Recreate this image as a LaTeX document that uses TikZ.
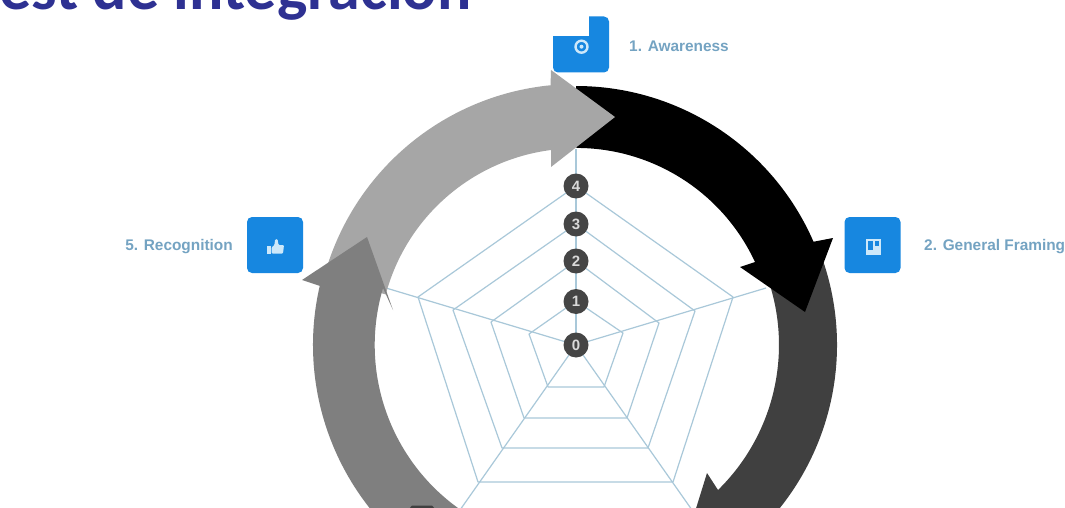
\documentclass[tikz,border=0pt]{standalone}
\usepackage{fontspec}
\setmainfont{Liberation Sans}
\newfontfamily\titlefont{Carlito}
\definecolor{titleblue}{HTML}{2E3192}
\definecolor{boxblue}{HTML}{1787E0}
\definecolor{labelblue}{HTML}{74A3C2}
\definecolor{spoke}{HTML}{A9C8D9}
\definecolor{badge}{HTML}{454545}
\definecolor{icontint}{HTML}{CDE8FA}
\definecolor{arrowA}{HTML}{000000}
\definecolor{arrowB}{HTML}{404040}
\definecolor{arrowC}{HTML}{7F7F7F}
\definecolor{arrowD}{HTML}{A6A6A6}
\tikzset{
  iconbox/.style={fill=boxblue,rounded corners=5pt,minimum size=56pt,inner sep=0pt},
  lab/.style={text=labelblue,font=\fontsize{15.4}{17}\selectfont\bfseries,inner sep=0pt},
  num/.style={circle,fill=badge,text=white!85!black,minimum size=25pt,inner sep=0pt,font=\fontsize{15}{16}\selectfont\bfseries},
  web/.style={draw=spoke,line width=1.2pt,line join=round},
}
\begin{document}
\begin{tikzpicture}[x=1pt,y=1pt]
\useasboundingbox (0,0) rectangle (1065,507);
\clip (0,0) rectangle (1065,507);
\fill[white] (0,0) rectangle (1065,507);
% title
\node[anchor=base west,inner sep=0pt,text=titleblue,font=\titlefont\fontsize{64}{70}\selectfont\bfseries] (title) at (-1,497.5) {est de integración};
% web
\begin{scope}[shift={(576,162)}]
  \coordinate (n4) at (0,159); \coordinate (n3) at (0,121); \coordinate (n2) at (0,84); \coordinate (n1) at (0,44);
  \coordinate (r4) at (157,48); \coordinate (r3) at (119,34); \coordinate (r2) at (83,22); \coordinate (r1) at (47,12);
  \coordinate (d4) at (97,-137); \coordinate (d3) at (72,-103); \coordinate (d2) at (51,-73); \coordinate (d1) at (28,-42);
  \coordinate (e4) at (-98,-137); \coordinate (e3) at (-74,-103); \coordinate (e2) at (-52,-73); \coordinate (e1) at (-28,-42);
  \coordinate (l4) at (-158,48); \coordinate (l3) at (-123,35); \coordinate (l2) at (-85,23); \coordinate (l1) at (-47,11);
  \coordinate (o) at (0,0);
  \coordinate (topend) at (0,196); \coordinate (rend) at (190,57); \coordinate (lend) at (-190,57);
  \coordinate (dend) at (116,-165); \coordinate (eend) at (-116,-165);
  \foreach \k in {1,2,3,4}{
    \draw[web] (n\k) -- (r\k) -- (d\k) -- (e\k) -- (l\k) -- cycle;
  }
  \draw[web] (o) -- (topend);
  \draw[web] (o) -- (rend);
  \draw[web] (o) -- (lend);
  \draw[web] (o) -- (dend);
  \draw[web] (o) -- (eend);
  % ring arrows
  \fill[arrowB] (20:261) arc[start angle=20,end angle=-45,radius=261pt]
     -- (-40:285) -- (109,-199) -- (131,-128) -- (142,-145)
     arc[start angle=-45.6,end angle=20,radius=203pt] -- cycle;
  \fill[arrowA] (90:259) arc[start angle=90,end angle=23.5,radius=259pt]
     -- (257,107) -- (229,33) -- (164,78) -- (179,83)
     arc[start angle=24.9,end angle=90,radius=197pt] -- cycle;
  \fill[arrowD] (165:261) arc[start angle=165,end angle=95.6,radius=261pt]
     -- (-25,275) -- (39,228) -- (-25,178) -- (-25,195)
     arc[start angle=97.3,end angle=165,radius=197pt] -- cycle;
  \fill[arrowC] (240:263) arc[start angle=240,end angle=167,radius=263pt]
     -- (-274,65) -- (-209,108) -- (-183,35) -- (-193,57)
     arc[start angle=163.5,end angle=240,radius=201pt] -- cycle;
\end{scope}
\fill[arrowB] (409,-2) -- (412,1.5) -- (432,1.5) -- (435,-2) -- cycle;
% value badges
\node[num] (b4) at (576,321) {4};
\node[num] (b3) at (576,283) {3};
\node[num] (b2) at (576,246) {2};
\node[num] (b1) at (576,205.5) {1};
\node[num] (b0) at (576,162) {0};
% icon boxes
\node[iconbox] (box1) at (581,462.5) {};
\fill[white] (552,471) rectangle (589,492);
\draw[icontint,line width=2.4pt] (581.5,460.3) circle (6pt);
\fill[icontint] (581.5,460.3) circle (2pt);
\node[iconbox] (box2) at (872.5,262) {};
\fill[icontint] (866,252.5) rectangle (881,268);
\fill[boxblue] (868,257.5) rectangle (872.5,266);
\fill[boxblue] (875,261.5) rectangle (878.5,266);
\node[iconbox] (box5) at (275,262) {};
\fill[icontint] (267,253.5) rectangle (271,261.5);
\fill[icontint,rounded corners=1pt] (271.5,253.5) -- (283,253.5) -- (284,262) -- (278.5,262) -- (277.5,268) -- (275,267.5) -- (274.5,262) -- (271.5,259.5) -- cycle;
% labels
\node[lab,anchor=west] (l1t) at (629,461) {1. Awareness};
\node[lab,anchor=west] (l2t) at (924,260.5) {2. General Framing};
\node[lab,anchor=east] (l5t) at (233,260.5) {5. Recognition};
\end{tikzpicture}
\end{document}
